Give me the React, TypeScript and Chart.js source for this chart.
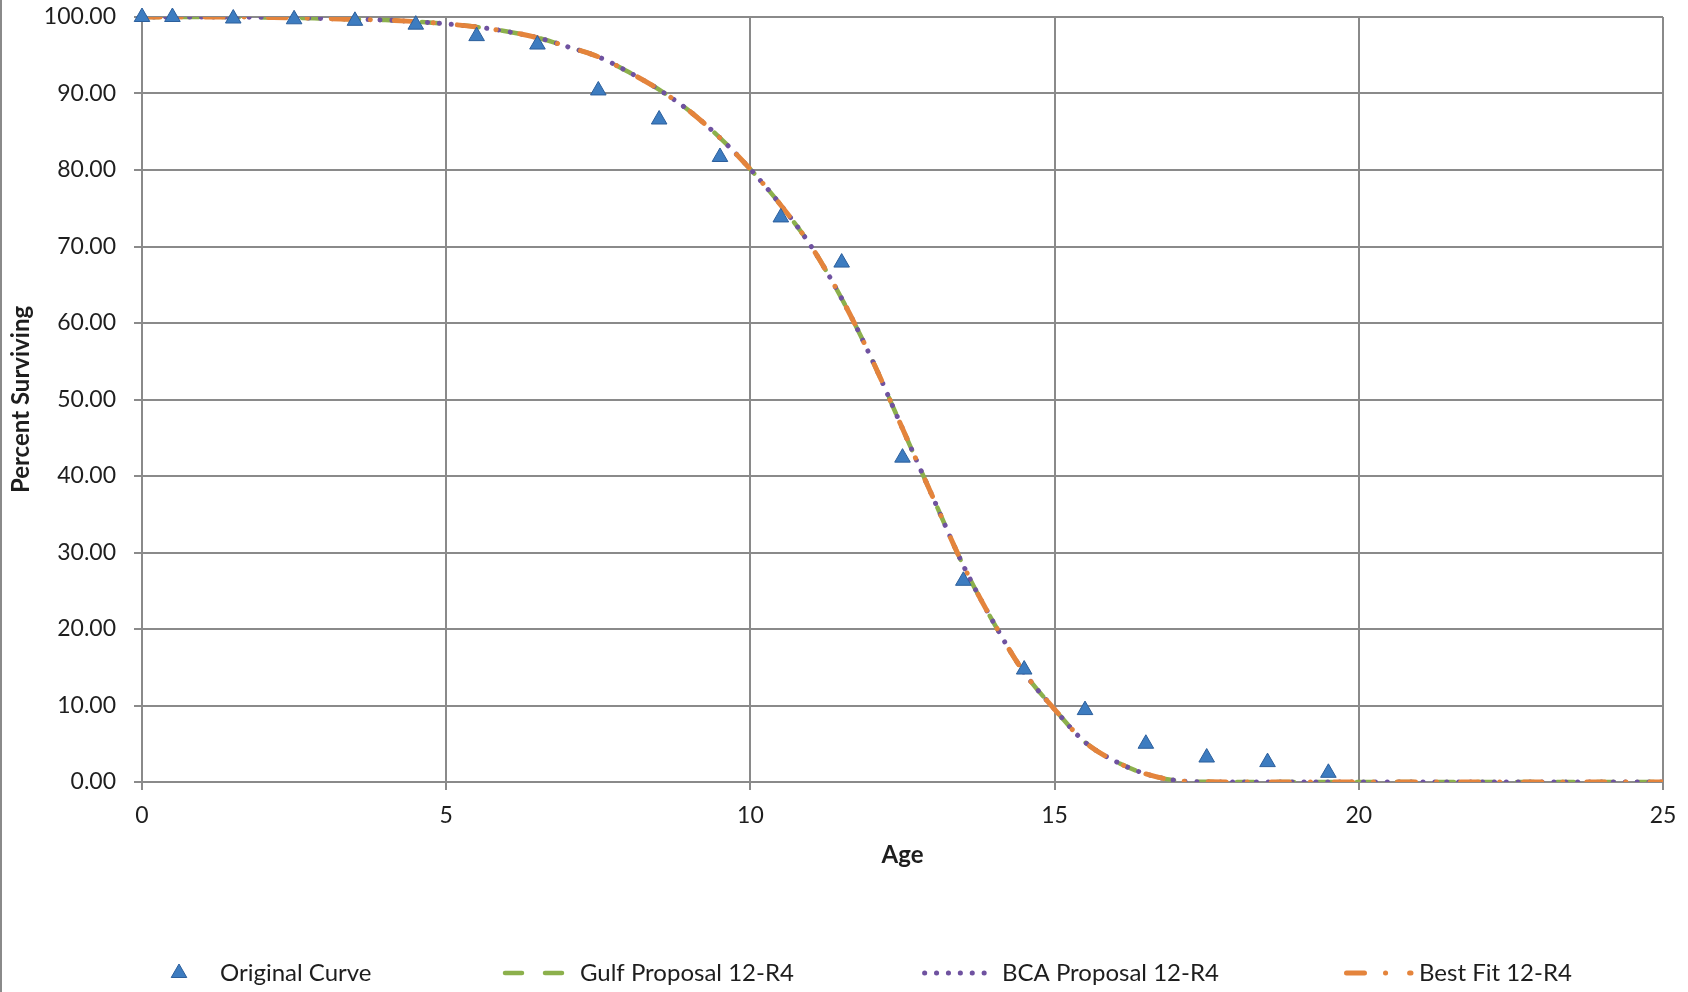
import React, { useEffect, useRef } from "react";
import { Chart, registerables } from "chart.js";

Chart.register(...registerables);

// ---------- DATA ----------
const seriesNames = [
  "Original Curve",
  "Gulf Proposal 12-R4",
  "BCA Proposal 12-R4",
  "Best Fit 12-R4",
];

const originalAges = [
  0, 0.5, 1.5, 2.5, 3.5, 4.5, 5.5, 6.5, 7.5, 8.5, 9.5, 10.5, 11.5, 12.5, 13.5,
  14.5, 15.5, 16.5, 17.5, 18.5, 19.5,
];
const originalValues = [
  100, 100, 99.8, 99.7, 99.5, 99.0, 97.5, 96.4, 90.4, 86.6, 81.7, 73.8, 67.9,
  42.4, 26.3, 14.7, 9.4, 5.0, 3.2, 2.6, 1.2,
];

const curveAges = [
  0, 0.5, 1, 1.5, 2, 2.5, 3, 3.5, 4, 4.5, 5, 5.5, 6, 6.5, 7, 7.5, 8, 8.5, 9,
  9.5, 10, 10.5, 11, 11.5, 12, 12.5, 13, 13.5, 14, 14.5, 15, 15.5, 16, 16.5, 17,
  17.5, 18, 18.5, 19, 19.5, 20, 20.5, 21, 21.5, 22, 22.5, 23, 23.5, 24, 24.5, 25,
];
const gulfValues = [
  100, 100, 100, 100, 99.95, 99.9, 99.8, 99.7, 99.6, 99.4, 99.1, 98.7, 98.1,
  97.3, 96.1, 94.8, 92.8, 90.5, 87.7, 84.2, 80.1, 75.4, 70.0, 63.2, 55.2, 46.2,
  37.2, 28.3, 20.8, 14.3, 9.5, 5.2, 2.7, 1.05, 0.2, 0.02, 0, 0, 0, 0, 0, 0, 0,
  0, 0, 0, 0, 0, 0, 0, 0,
];
const bcaValues = [
  100, 100, 100, 100, 99.95, 99.9, 99.8, 99.7, 99.6, 99.4, 99.1, 98.7, 98.1,
  97.3, 96.1, 94.8, 92.8, 90.5, 87.7, 84.2, 80.1, 75.4, 70.0, 63.2, 55.2, 46.2,
  37.2, 28.3, 20.8, 14.3, 9.5, 5.2, 2.7, 1.05, 0.2, 0.02, 0, 0, 0, 0, 0, 0, 0,
  0, 0, 0, 0, 0, 0, 0, 0,
];
const bestFitValues = [
  100, 100, 100, 100, 99.95, 99.9, 99.8, 99.7, 99.6, 99.4, 99.1, 98.7, 98.1,
  97.3, 96.1, 94.8, 92.8, 90.5, 87.7, 84.2, 80.1, 75.4, 70.0, 63.2, 55.2, 46.2,
  37.2, 28.3, 20.8, 14.3, 9.5, 5.2, 2.7, 1.05, 0.2, 0.02, 0, 0, 0, 0, 0, 0, 0,
  0, 0, 0, 0, 0, 0, 0, 0,
];

const xTickValues = [0, 5, 10, 15, 20, 25];
const yTickValues = [0, 10, 20, 30, 40, 50, 60, 70, 80, 90, 100];

const xTitle = "Age";
const yTitle = "Percent Surviving";

// ---------- STYLE ----------
const FONT = "Lato, 'Open Sans', sans-serif";
const TEXT = "#1e1e1e";
const GRID = "#8a8a8a";
const BLUE = "#3d7cc0";
const BLUE_EDGE = "#2c5f9c";
const GREEN = "#8cb04c";
const PURPLE = "#6f52a0";
const ORANGE = "#e4843c";

const W = 1688;
const H = 992;

// legend layout (pixels on canvas)
const legendY = 973;
const legendLayout = [
  { x0: 179, x1: 179, textX: 220 },
  { x0: 505, x1: 563, textX: 580 },
  { x0: 924.6, x1: 985, textX: 1002 },
  { x0: 1346.5, x1: 1411, textX: 1419 },
];

const bgPlugin = {
  id: "bgBorder",
  beforeDraw(chart: any) {
    const ctx = chart.ctx;
    ctx.save();
    ctx.fillStyle = "#ffffff";
    ctx.fillRect(0, 0, chart.width, chart.height);
    ctx.strokeStyle = GRID;
    ctx.lineWidth = 2;
    ctx.beginPath();
    ctx.moveTo(1, 0);
    ctx.lineTo(1, chart.height);
    ctx.stroke();
    ctx.restore();
  },
};

const legendPlugin = {
  id: "customLegend",
  afterDraw(chart: any) {
    const ctx = chart.ctx;
    const dsets = chart.data.datasets;
    ctx.save();
    dsets.forEach((ds: any, i: number) => {
      const L = legendLayout[i];
      if (!L) return;
      if (i === 0) {
        const r = 9;
        const cx = L.x0;
        const cy = legendY;
        ctx.beginPath();
        ctx.moveTo(cx, cy - r);
        ctx.lineTo(cx + r * 0.866, cy + r * 0.5);
        ctx.lineTo(cx - r * 0.866, cy + r * 0.5);
        ctx.closePath();
        ctx.fillStyle = ds.pointBackgroundColor;
        ctx.fill();
        ctx.lineWidth = 1;
        ctx.strokeStyle = ds.pointBorderColor;
        ctx.stroke();
      } else {
        ctx.beginPath();
        ctx.setLineDash(ds.borderDash || []);
        ctx.lineCap = "round";
        ctx.lineWidth = ds.borderWidth;
        ctx.strokeStyle = ds.borderColor;
        ctx.moveTo(L.x0, legendY);
        ctx.lineTo(L.x1, legendY);
        ctx.stroke();
        ctx.setLineDash([]);
      }
      ctx.fillStyle = TEXT;
      ctx.font = `24px ${FONT}`;
      ctx.textAlign = "left";
      ctx.textBaseline = "middle";
      ctx.fillText(ds.label, L.textX, legendY);
    });
    ctx.restore();
  },
};

export default function App() {
  const canvasRef = useRef<HTMLCanvasElement | null>(null);

  useEffect(() => {
    const canvas = canvasRef.current;
    if (!canvas) return;

    const pts = (xs: number[], ys: number[]) =>
      xs.map((x, i) => ({ x, y: ys[i] }));

    const chart = new Chart(canvas, {
      type: "line",
      data: {
        datasets: [
          {
            label: seriesNames[0],
            data: pts(originalAges, originalValues),
            showLine: false,
            pointStyle: "triangle",
            pointRadius: 9,
            pointHoverRadius: 9,
            pointBackgroundColor: BLUE,
            pointBorderColor: BLUE_EDGE,
            pointBorderWidth: 1,
            borderColor: BLUE,
            backgroundColor: BLUE,
            order: 0,
            clip: false,
          } as any,
          {
            label: seriesNames[1],
            data: pts(curveAges, gulfValues),
            borderColor: GREEN,
            backgroundColor: GREEN,
            borderWidth: 4.5,
            borderDash: [17, 23],
            borderCapStyle: "round",
            pointRadius: 0,
            cubicInterpolationMode: "monotone",
            order: 3,
          },
          {
            label: seriesNames[2],
            data: pts(curveAges, bcaValues),
            borderColor: PURPLE,
            backgroundColor: PURPLE,
            borderWidth: 5,
            borderDash: [0.1, 11.8],
            borderCapStyle: "round",
            pointRadius: 0,
            cubicInterpolationMode: "monotone",
            order: 2,
          },
          {
            label: seriesNames[3],
            data: pts(curveAges, bestFitValues),
            borderColor: ORANGE,
            backgroundColor: ORANGE,
            borderWidth: 5,
            borderDash: [18, 21, 0.1, 24],
            borderCapStyle: "round",
            pointRadius: 0,
            cubicInterpolationMode: "monotone",
            order: 1,
          },
        ],
      },
      options: {
        responsive: false,
        animation: false,
        events: [],
        layout: { padding: { top: 17, right: 25, left: 0, bottom: 0 } },
        plugins: {
          legend: { display: false },
          tooltip: { enabled: false },
        },
        scales: {
          x: {
            type: "linear",
            min: 0,
            max: 25,
            afterFit(scale: any) {
              scale.height = 210;
              scale.paddingLeft = 0;
              scale.paddingRight = 0;
            },
            afterBuildTicks(scale: any) {
              scale.ticks = xTickValues.map((v) => ({ value: v }));
            },
            ticks: {
              font: { family: FONT, size: 23 },
              color: TEXT,
              padding: 12,
              maxRotation: 0,
              callback: (v: any) => String(v),
            },
            grid: {
              color: GRID,
              lineWidth: 2,
              tickLength: 8,
              drawTicks: true,
            },
            border: { color: GRID, width: 2 },
            title: {
              display: true,
              text: xTitle,
              font: { family: FONT, size: 24, weight: "bold" },
              color: TEXT,
              padding: { top: 0, bottom: 122 },
            },
          },
          y: {
            type: "linear",
            min: 0,
            max: 100,
            afterFit(scale: any) {
              scale.width = 142;
              scale.paddingTop = 0;
              scale.paddingBottom = 0;
            },
            afterBuildTicks(scale: any) {
              scale.ticks = yTickValues.map((v) => ({ value: v }));
            },
            ticks: {
              font: { family: FONT, size: 23 },
              color: TEXT,
              padding: 18,
              callback: (v: any) => Number(v).toFixed(2),
            },
            grid: {
              color: GRID,
              lineWidth: 2,
              tickLength: 8,
              drawTicks: true,
            },
            border: { color: GRID, width: 2 },
            title: {
              display: true,
              text: yTitle,
              font: { family: FONT, size: 24, weight: "bold" },
              color: TEXT,
              padding: { top: 7, bottom: 0 },
            },
          },
        },
      } as any,
      plugins: [bgPlugin, legendPlugin],
    });

    return () => {
      chart.destroy();
    };
  }, []);

  return (
    <div
      style={{
        position: "absolute",
        left: 0,
        top: 0,
        width: W,
        height: H,
        background: "#ffffff",
      }}
    >
      <canvas
        ref={canvasRef}
        width={W}
        height={H}
        style={{ display: "block", width: W, height: H }}
      />
    </div>
  );
}
